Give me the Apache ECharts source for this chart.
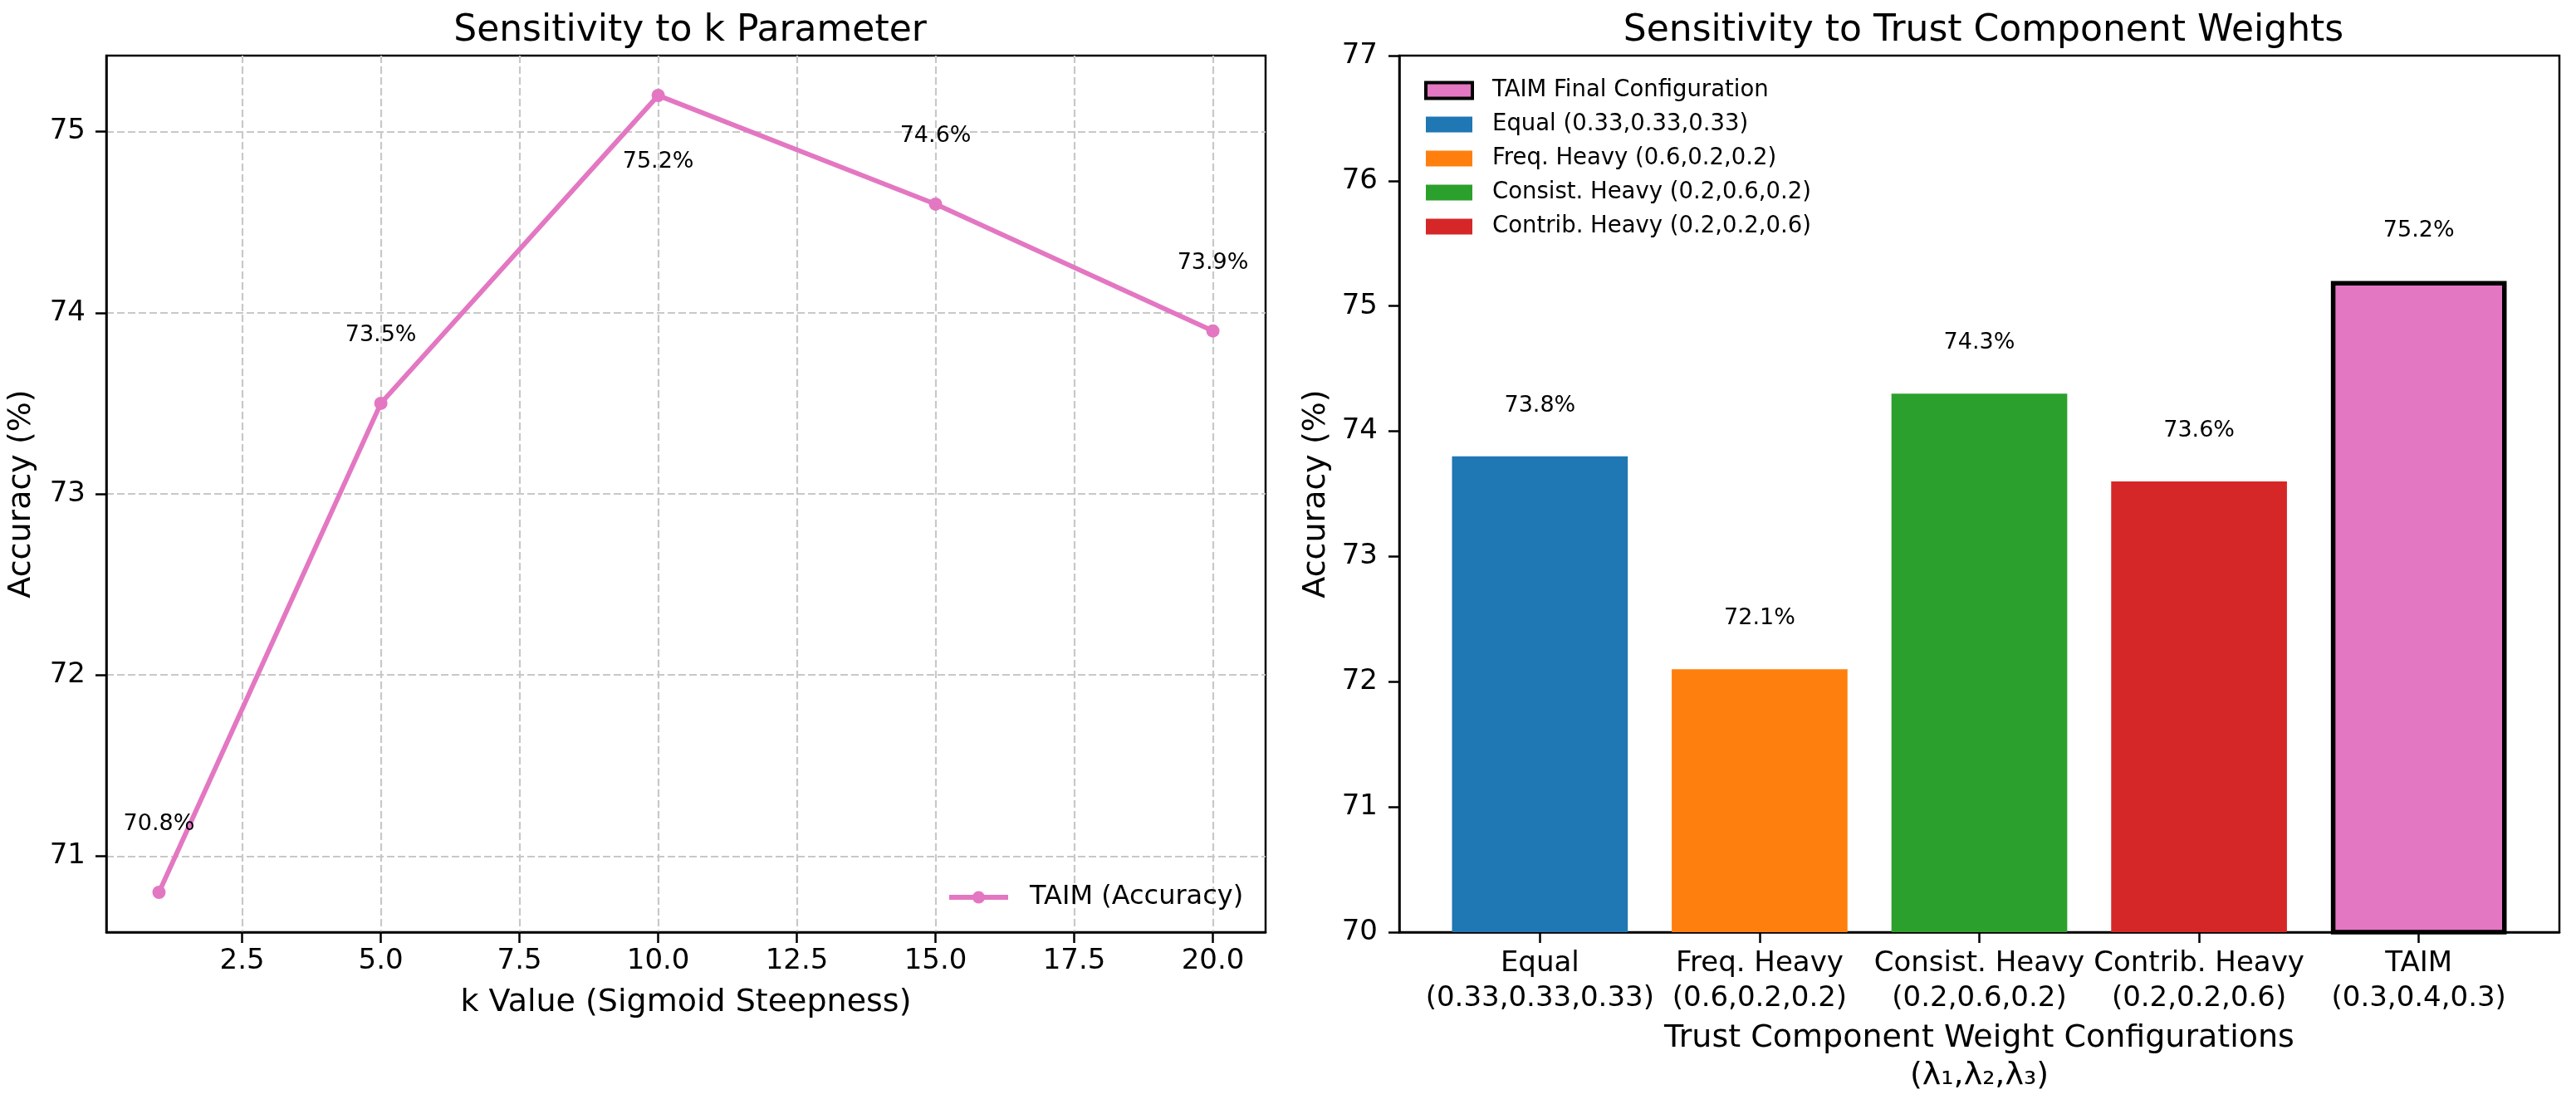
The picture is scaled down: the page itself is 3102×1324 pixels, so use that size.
<!DOCTYPE html>
<html><head><meta charset="utf-8">
<script src="https://cdn.jsdelivr.net/npm/echarts@6/dist/echarts.min.js"></script>
<style>html,body{margin:0;padding:0;background:#fff}#c{width:3102px;height:1324px}</style>
</head><body><div id="c"></div>
<script>
// ---- data ----
const kValues = [1, 5, 10, 15, 20];
const kAccuracy = [70.8, 73.5, 75.2, 74.6, 73.9];
const kTicks = [2.5, 5, 7.5, 10, 12.5, 15, 17.5, 20];
const leftAccTicks = [71, 72, 73, 74, 75];

const configNames = ['Equal', 'Freq. Heavy', 'Consist. Heavy', 'Contrib. Heavy', 'TAIM'];
const configWeights = ['(0.33,0.33,0.33)', '(0.6,0.2,0.2)', '(0.2,0.6,0.2)', '(0.2,0.2,0.6)', '(0.3,0.4,0.3)'];
const configAccuracy = [73.8, 72.1, 74.3, 73.6, 75.2];
const configLegend = ['Equal (0.33,0.33,0.33)', 'Freq. Heavy (0.6,0.2,0.2)', 'Consist. Heavy (0.2,0.6,0.2)', 'Contrib. Heavy (0.2,0.2,0.6)', 'TAIM Final Configuration'];

// ---- styles ----
const configColors = ['#1f77b4', '#ff7f0e', '#2ca02c', '#d62728', '#e377c2'];
const LINE_COLOR = '#e377c2';
const FONT = 'DejaVu Sans';
const GL = {left: 128, top: 67, width: 1396, height: 1056};
const GR = {left: 1685, top: 67, width: 1397, height: 1056};

// matplotlib-style 5% auto margins
function pad(lo, hi) { const r = hi - lo; return [lo - 0.05 * r, hi + 0.05 * r]; }
const [kxMin, kxMax] = pad(Math.min(...kValues), Math.max(...kValues));
const [kyMin, kyMax] = pad(Math.min(...kAccuracy), Math.max(...kAccuracy));
const [bxMin, bxMax] = pad(-0.4, configNames.length - 1 + 0.4);
const unitPx = GR.width / (bxMax - bxMin);
const barW = 0.8 * unitPx;
const maxAcc = Math.max(...kAccuracy);
const catIdx = configNames.map((_, i) => i);

const tickStyle = {show: true, length: 13, lineStyle: {color: '#000', width: 2.5}};
const lineAxis = {onZero: false, lineStyle: {color: '#000', width: 2.5}};
const lblStyle = {fontSize: 34, color: '#000', fontFamily: FONT};
const nameStyle = {fontSize: 38, color: '#000', fontFamily: FONT};
const gridLine = {show: true, lineStyle: {color: '#c8c8c8', width: 2.2, type: [9, 4]}};

const chart = echarts.init(document.getElementById('c'), null, {renderer: 'canvas', devicePixelRatio: 1});
chart.setOption({
  animation: false,
  backgroundColor: '#fff',
  title: [
    {text: 'Sensitivity to k Parameter', left: GL.left + GL.width / 2, top: 11, textAlign: 'center',
     textStyle: {fontFamily: FONT, fontSize: 44, fontWeight: 'normal', color: '#000', lineHeight: 44}},
    {text: 'Sensitivity to Trust Component Weights', left: GR.left + GR.width / 2, top: 11, textAlign: 'center',
     textStyle: {fontFamily: FONT, fontSize: 44, fontWeight: 'normal', color: '#000', lineHeight: 44}}
  ],
  grid: [
    Object.assign({show: true, borderColor: '#000', borderWidth: 2.5, containLabel: false, outerBoundsMode: 'none'}, GL),
    Object.assign({show: true, borderColor: '#000', borderWidth: 2.5, containLabel: false, outerBoundsMode: 'none'}, GR)
  ],
  legend: [
    {data: ['TAIM (Accuracy)'], left: 1135, top: 1076 - 16, itemWidth: 71, itemHeight: 19,
     lineStyle: {width: 6, color: LINE_COLOR}, itemStyle: {color: LINE_COLOR},
     textStyle: Object.assign({}, lblStyle, {fontSize: 32, lineHeight: 32, padding: [0, 0, 0, 21]})},
    {orient: 'vertical', left: 1710, top: 90, itemWidth: 56, itemHeight: 19, itemGap: 13, icon: 'rect',
     data: [
       {name: configLegend[4], itemStyle: {borderColor: '#000', borderWidth: 4}},
       configLegend[0], configLegend[1], configLegend[2], configLegend[3]
     ],
     textStyle: {fontSize: 27.5, color: '#000', fontFamily: FONT, lineHeight: 28, padding: [0, 0, 0, 19]}}
  ],
  xAxis: [
    {type: 'value', gridIndex: 0, min: kxMin, max: kxMax,
     axisLine: lineAxis, axisTick: Object.assign({customValues: kTicks}, tickStyle),
     axisLabel: Object.assign({customValues: kTicks, margin: 18, formatter: v => v.toFixed(1)}, lblStyle),
     splitLine: gridLine,
     name: 'k Value (Sigmoid Steepness)', nameLocation: 'middle', nameGap: 66, nameTextStyle: nameStyle},
    {type: 'value', gridIndex: 1, min: bxMin, max: bxMax,
     axisLine: lineAxis, axisTick: Object.assign({customValues: catIdx}, tickStyle),
     axisLabel: Object.assign({customValues: catIdx, margin: 17, lineHeight: 42,
       formatter: v => configNames[Math.round(v)] + '\n' + configWeights[Math.round(v)]}, lblStyle),
     splitLine: {show: false},
     name: 'Trust Component Weight Configurations\n(λ₁,λ₂,λ₃)', nameLocation: 'middle', nameGap: 104,
     nameTextStyle: Object.assign({lineHeight: 45}, nameStyle)}
  ],
  yAxis: [
    {type: 'value', gridIndex: 0, min: kyMin, max: kyMax,
     axisLine: lineAxis, axisTick: Object.assign({customValues: leftAccTicks}, tickStyle),
     axisLabel: Object.assign({customValues: leftAccTicks, margin: 25}, lblStyle),
     splitLine: gridLine,
     name: 'Accuracy (%)', nameLocation: 'middle', nameGap: 83, nameTextStyle: nameStyle},
    {type: 'value', gridIndex: 1, min: 70, max: 77, interval: 1,
     axisLine: lineAxis, axisTick: tickStyle,
     axisLabel: Object.assign({margin: 26}, lblStyle),
     splitLine: {show: false},
     name: 'Accuracy (%)', nameLocation: 'middle', nameGap: 81, nameTextStyle: nameStyle}
  ],
  series: [
    {type: 'line', name: 'TAIM (Accuracy)', xAxisIndex: 0, yAxisIndex: 0,
     data: kValues.map((k, i) => ({value: [k, kAccuracy[i]],
       label: kAccuracy[i] === maxAcc ? {position: 'bottom', distance: 56} : undefined})),
     symbol: 'circle', symbolSize: 16, showSymbol: true,
     lineStyle: {color: LINE_COLOR, width: 5.8}, itemStyle: {color: LINE_COLOR},
     label: {show: true, position: 'top', distance: 58, formatter: p => p.value[1].toFixed(1) + '%',
       fontSize: 27, fontFamily: FONT, color: '#000', lineHeight: 32},
     z: 3}
  ].concat(configAccuracy.map((v, i) => ({
     type: 'bar', name: configLegend[i], xAxisIndex: 1, yAxisIndex: 1,
     data: [[i, v]], barWidth: barW, barGap: '-100%',
     itemStyle: configNames[i] === 'TAIM'
       ? {color: configColors[i], borderColor: '#000', borderWidth: 5.5}
       : {color: configColors[i], borderWidth: 0},
     label: {show: true, position: 'top', distance: 45, formatter: p => p.value[1].toFixed(1) + '%',
       fontSize: 27, fontFamily: FONT, color: '#000', lineHeight: 32}
  })))
});
</script></body></html>
